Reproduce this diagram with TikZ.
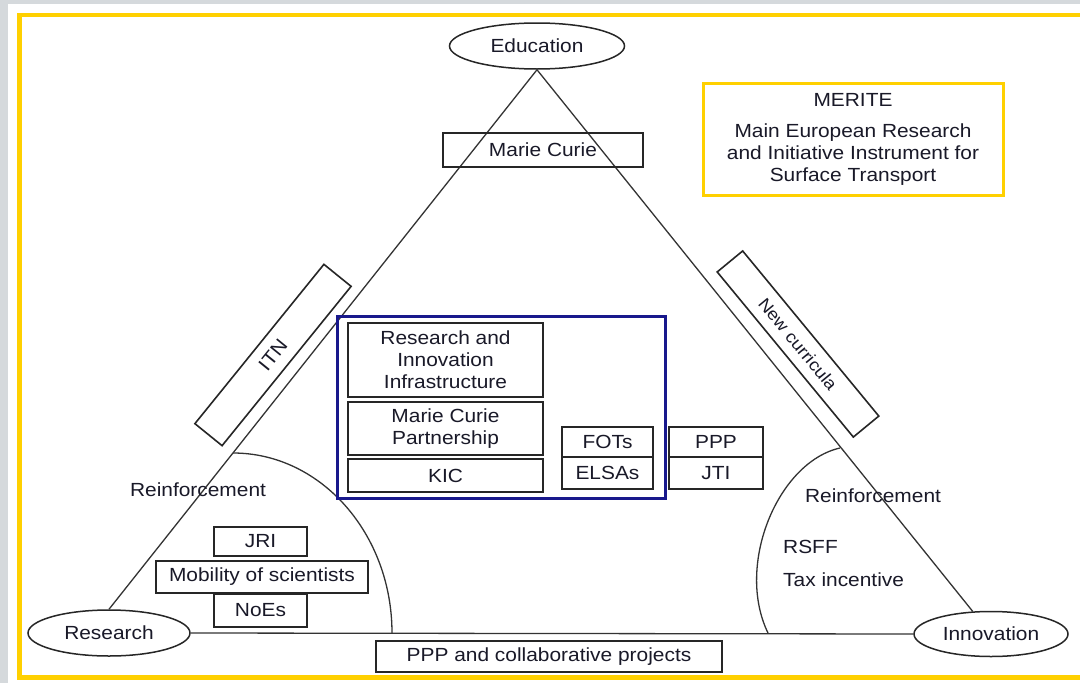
\documentclass[tikz,border=0pt]{standalone}
\usepackage{fontspec}
\setmainfont{Liberation Sans}[FakeStretch=1.1]
\usetikzlibrary{shapes.geometric}
\definecolor{bggrey}{RGB}{213,217,220}
\definecolor{frameyellow}{RGB}{255,208,0}
\definecolor{navy}{RGB}{24,24,140}
\definecolor{txt}{RGB}{25,25,40}
\tikzset{
  lbl/.style={font=\fontsize{19}{22}\selectfont, text=txt, inner sep=0pt},
  boxn/.style={lbl, draw=black!85, line width=1.6pt, align=center, minimum width=#1},
  oval/.style={lbl, ellipse, draw=black!85, line width=1.5pt},
  tri/.style={draw=black!80, line width=1.3pt},
}
\begin{document}
\begin{tikzpicture}[x=1pt,y=-1pt]
\useasboundingbox (0,0) rectangle (1080,683);
\fill[bggrey] (0,0) rectangle (1080,683);
\fill[white] (8,4) rectangle (1080,683);
\begin{scope}
\clip (0,0) rectangle (1080,683);
\draw[frameyellow, line width=4.5pt] (19.5,15) rectangle (1095,677.5);
\end{scope}

% ellipses
\node[oval, minimum width=175pt, minimum height=46pt] (edu) at (537,46) {Education};
\node[oval, minimum width=162pt, minimum height=46pt] (res) at (109,633) {Research};
\node[oval, minimum width=154pt, minimum height=45pt] (inn) at (991,634) {Innovation};

% triangle
\draw[tri] (edu.south) -- (res.north);
\draw[tri] (edu.south) -- (inn.129);
\draw[tri] (res.east) -- (inn.west);

% reinforcement arcs
\draw[tri] (233,453) .. controls (321,453) and (392,534) .. (392,633);
\draw[tri] (840,448) .. controls (778,462) and (735,565) .. (768,633);

% top
\node[boxn=200pt, minimum height=34pt] (mc) at (543,150) {Marie Curie};
\node[lbl, draw=frameyellow, line width=3pt, minimum width=300pt, minimum height=112pt, align=center] (merite) at (853,139)
  {MERITE\\[9pt]Main European Research\\and Initiative Instrument for\\Surface Transport};

% rotated boxes
\node[boxn=205pt, minimum height=35pt, rotate=51] (itn) at (273,355) {ITN};
\node[boxn=214pt, minimum height=33pt, rotate=-50.5, font=\fontsize{17}{20}\selectfont] (newc) at (798,344) {New curricula};

% blue box
\node[draw=navy, line width=3pt, minimum width=328pt, minimum height=182pt, inner sep=0pt] (blue) at (501,407) {};
\node[boxn=195pt, minimum height=74pt] (rii) at (445.5,360) {Research and\\Innovation\\Infrastructure};
\node[boxn=195pt, minimum height=53pt] (mcp) at (445.5,428.5) {Marie Curie\\Partnership};
\node[boxn=195pt, minimum height=33pt] (kic) at (445.5,475.5) {KIC};
\node[boxn=91pt, minimum height=30pt] (fots) at (607.5,442) {FOTs};
\node[boxn=91pt, minimum height=32pt] (elsas) at (607.5,473) {ELSAs};
\node[boxn=94pt, minimum height=30pt] (ppp) at (716,442) {PPP};
\node[boxn=94pt, minimum height=32pt] (jti) at (716,473) {JTI};

% left bottom
\node[lbl] (reinfl) at (198,490) {Reinforcement};
\node[boxn=93pt, minimum height=29pt] (jri) at (260.5,541.5) {JRI};
\node[boxn=212pt, minimum height=32pt] (mob) at (262,577) {Mobility of scientists};
\node[boxn=93pt, minimum height=33pt] (noes) at (260.5,610.5) {NoEs};

% right bottom
\node[lbl] (reinfr) at (873,496) {Reinforcement};
\node[lbl, anchor=west] (rsff) at (783,547) {RSFF};
\node[lbl, anchor=west] (tax) at (783,580) {Tax incentive};

% bottom
\node[boxn=346pt, minimum height=31pt] (pppc) at (549,656.5) {PPP and collaborative projects};
\end{tikzpicture}
\end{document}
